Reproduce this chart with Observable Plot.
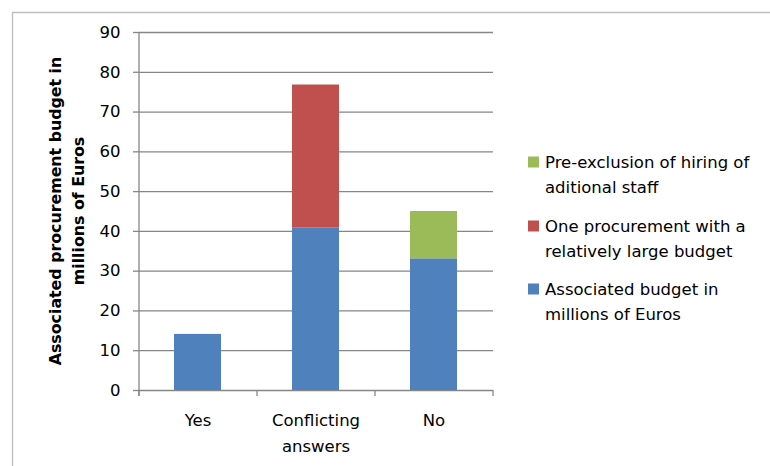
<!DOCTYPE html>
<html>
<head>
<meta charset="utf-8">
<script src="https://cdn.jsdelivr.net/npm/d3@7"></script>
<script src="https://cdn.jsdelivr.net/npm/@observablehq/plot@0.6"></script>
<style>
  html, body { margin: 0; padding: 0; background: #fff; }
  #chart { position: relative; width: 770px; height: 466px; }
</style>
</head>
<body>
<div id="chart"></div>
<script>
const categories = ["Yes", "Conflicting answers", "No"];
const categoryLabels = ["Yes", "Conflicting\nanswers", "No"];
const seriesNames = [
  "Associated budget in millions of Euros",
  "One procurement with a relatively large budget",
  "Pre-exclusion of hiring of aditional staff"
];
const budgetValues = [14.1, 40.9, 33.1];
const largeProcurementValues = [0, 35.9, 0];
const preExclusionValues = [0, 0, 11.9];
const seriesColors = ["#4F81BD", "#C0504D", "#9BBB59"];
const yTicks = [0, 10, 20, 30, 40, 50, 60, 70, 80, 90];
// legend label lines, in series order
const legendLines = [
  ["Associated budget in", "millions of Euros"],
  ["One procurement with a", "relatively large budget"],
  ["Pre-exclusion of hiring of", "aditional staff"]
];
const legendOrder = [2, 1, 0];
const yTitleLines = ["Associated procurement budget in", "millions of Euros"];

const seriesValues = [budgetValues, largeProcurementValues, preExclusionValues];
const rows = [];
seriesNames.forEach((s, si) => {
  categories.forEach((c, ci) => {
    rows.push({category: c, series: s, value: seriesValues[si][ci]});
  });
});
const labelOf = new Map(categories.map((c, i) => [c, categoryLabels[i]]));

const FONT = "DejaVu Sans, sans-serif";
const GRID = "#868686";
const FS = 16.5;

const plot = Plot.plot({
  width: 770,
  height: 466,
  marginLeft: 139,
  marginRight: 277,
  marginTop: 32,
  marginBottom: 76,
  style: {fontFamily: FONT, fontSize: FS + "px", color: "#000", background: "#fff"},
  x: {domain: categories, paddingInner: 0.6, paddingOuter: 0.3, axis: null},
  y: {domain: [0, 90], ticks: yTicks, label: null},
  color: {domain: seriesNames, range: seriesColors},
  marks: [
    Plot.gridY(yTicks, {stroke: GRID, strokeOpacity: 1, strokeWidth: 1.3}),
    Plot.barY(rows, {x: "category", y: "value", fill: "series"}),
    Plot.axisY(yTicks, {tickSize: 6, tickPadding: 13, stroke: GRID, strokeOpacity: 1, strokeWidth: 1.3, fontSize: FS, label: null}),
    Plot.text(categories, {
      x: d => d, text: d => labelOf.get(d), frameAnchor: "bottom",
      lineAnchor: "top", dy: 16, lineHeight: 1.63, fontSize: FS, fill: "#000"
    })
  ]
});

document.getElementById("chart").appendChild(plot);

const svg = d3.select(plot);
const xs = plot.scale("x");
const ys = plot.scale("y");
const x0 = Math.min(...xs.range), x1 = Math.max(...xs.range);
const yTop = ys.apply(90), yBase = ys.apply(0);

// outer chart border (top & left)
svg.append("path").attr("d", `M12.5,466V12.5H770`).attr("fill", "none").attr("stroke", "#BDBDBD").attr("stroke-width", 1.3);

// y axis line
svg.append("line").attr("x1", x0).attr("x2", x0).attr("y1", yTop).attr("y2", yBase + 6)
  .attr("stroke", GRID).attr("stroke-width", 1.3);
// category boundary ticks
for (let i = 0; i <= categories.length; i++) {
  const bx = x0 + i * (x1 - x0) / categories.length;
  svg.append("line").attr("x1", bx).attr("x2", bx).attr("y1", yBase).attr("y2", yBase + 6)
    .attr("stroke", GRID).attr("stroke-width", 1.3);
}

// y axis title
const yMid = (yTop + yBase) / 2;
const yt = svg.append("text").attr("transform", `translate(55,${yMid}) rotate(-90)`)
  .attr("text-anchor", "middle").attr("font-family", FONT).attr("font-weight", "bold").attr("font-size", 15.8).attr("fill", "#000");
yTitleLines.forEach((l, i) => {
  yt.append("tspan").attr("x", 0).attr("y", i * 23.5).attr("dy", "0.35em").text(l);
});

// legend
const legendY = [162, 226, 289];
legendOrder.forEach((si, k) => {
  const cy = legendY[k];
  svg.append("rect").attr("x", 528).attr("y", cy - 5.5).attr("width", 11).attr("height", 11).attr("fill", seriesColors[si]);
  const t = svg.append("text").attr("font-family", FONT).attr("font-size", FS).attr("fill", "#000").attr("text-anchor", "start");
  legendLines[si].forEach((l, j) => {
    t.append("tspan").attr("x", 545).attr("y", cy + j * 25).attr("dy", "0.35em").text(l);
  });
});
</script>
</body>
</html>
